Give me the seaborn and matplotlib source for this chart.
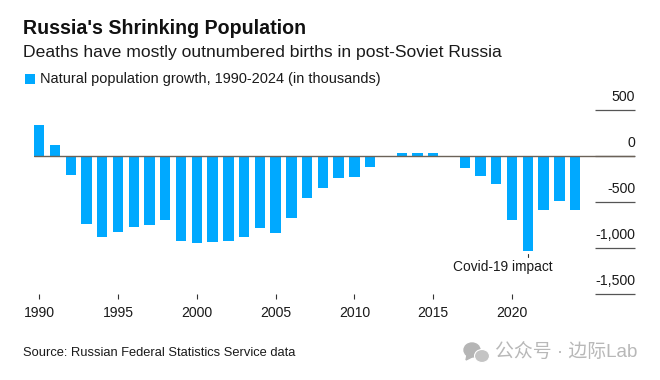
import seaborn as sns
import matplotlib.pyplot as plt
import pandas as pd
from matplotlib.patches import Ellipse, Polygon

years = list(range(1990, 2025))
growth = [337, 112, -214, -746, -887, -833, -771, -753, -699, -924, -949, -938,
          -931, -880, -786, -840, -681, -464, -355, -243, -232, -123, -4, 24,
          33, 33, -2, -130, -221, -308, -695, -1039, -586, -492, -586]
y_ticks = [500, 0, -500, -1000, -1500]
y_labels = ['500', '0', '-500', '-1,000', '-1,500']
x_ticks = [1990, 1995, 2000, 2005, 2010, 2015, 2020]

BLUE = '#00a9ff'
W, H = 660, 380

sns.set_style('white')
plt.rcParams['font.family'] = ['Liberation Sans', 'Noto Sans CJK SC', 'DejaVu Sans']

fig = plt.figure(figsize=(6.6, 3.8), dpi=100)
# axes box in pixels: x 34-635, y 109.7-293.7
ax = fig.add_axes([34 / W, 1 - 293.7 / H, 601 / W, 184 / H])

df = pd.DataFrame({'year': years, 'growth': growth})
sns.barplot(data=df, x='year', y='growth', native_scale=True, width=0.66,
            color=BLUE, saturation=1, linewidth=0, ax=ax, zorder=2)

ax.set_xlim(1989.67, 2027.8)
ax.set_ylim(-1500, 500)
ax.set_xlabel('')
ax.set_ylabel('')
sns.despine(ax=ax, left=True, bottom=True, top=True, right=True)

ax.set_xticks(x_ticks)
ax.set_xticklabels([str(x) for x in x_ticks])
ax.tick_params(axis='x', bottom=True, length=3.6, width=0.8, color='#333333',
               labelsize=10.1, labelcolor='#1a1a1a', pad=5.5)

# short gridlines on the right are the y ticks themselves
ax.yaxis.tick_right()
ax.set_yticks(y_ticks)
ax.set_yticklabels([])
ax.tick_params(axis='y', right=True, direction='in', length=29, width=0.9,
               color='#555555')
for val, lab in zip(y_ticks, y_labels):
    ax.text(1.0, val + 65, lab, transform=ax.get_yaxis_transform(), ha='right',
            va='bottom', fontsize=10.2, color='#1a1a1a', clip_on=False)
ax.axhline(0, color='#6b6258', lw=1, zorder=3)

# covid note
ax.plot([2021, 2021], [-1065, -1105], color='#333333', lw=0.8)
ax.text(2019.4, -1210, 'Covid-19 impact', ha='center', va='center',
        fontsize=9.9, color='#1a1a1a')

fig.text(23 / W, 1 - 28 / H, "Russia's Shrinking Population", fontsize=14.1,
         fontweight='bold', color='#111111', va='center')
fig.text(23 / W, 1 - 53 / H, 'Deaths have mostly outnumbered births in post-Soviet Russia',
         fontsize=12.6, color='#1a1a1a', va='center')
fig.patches.append(plt.Rectangle((25 / W, 1 - 84 / H), 10 / W, 10 / H, fc=BLUE, lw=0,
                                 transform=fig.transFigure))
fig.text(39.5 / W, 1 - 79 / H, 'Natural population growth, 1990-2024 (in thousands)',
         fontsize=10.45, color='#1a1a1a', va='center')
fig.text(23 / W, 1 - 353 / H, 'Source: Russian Federal Statistics Service data',
         fontsize=9.3, color='#1a1a1a', va='center')

# watermark
fig.patches.append(Ellipse((472 / W, 1 - 350 / H), 16 / W, 14 / H, color='#b5b5b5',
                           transform=fig.transFigure))
fig.patches.append(Polygon([(467 / W, 1 - 355 / H), (466 / W, 1 - 360 / H), (472 / W, 1 - 357 / H)],
                           color='#b5b5b5', transform=fig.transFigure))
fig.patches.append(Ellipse((482 / W, 1 - 356 / H), 15 / W, 13 / H, fc='#c4c4c4', ec='white', lw=0.8,
                           transform=fig.transFigure))
fig.text(495 / W, 1 - 353 / H, '公众号 · 边际Lab', fontsize=13.6, color='#b8b8b8', va='center')

fig.savefig('out.png', dpi=100, facecolor='white')
